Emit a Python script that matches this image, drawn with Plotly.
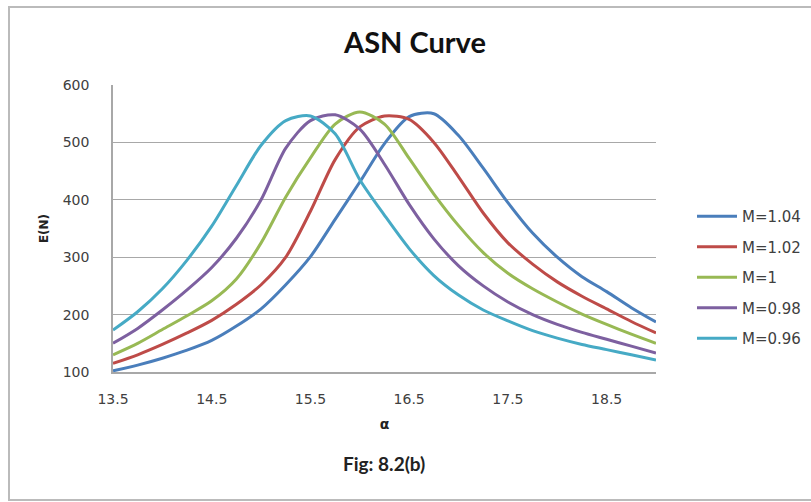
import plotly.graph_objects as go

alpha = [13.5, 13.75, 14.0, 14.25, 14.5, 14.75, 15.0, 15.25, 15.5, 15.75, 16.0, 16.25,
         16.5, 16.75, 17.0, 17.25, 17.5, 17.75, 18.0, 18.25, 18.5, 18.75, 19.0]

m_104 = [102, 112, 124, 138, 155, 180, 210, 252, 301, 366, 431, 498,
         545, 550, 512, 455, 395, 342, 300, 266, 240, 212, 187]
m_102 = [115, 130, 148, 168, 190, 218, 252, 300, 380, 470, 527, 546,
         540, 500, 440, 377, 325, 288, 257, 232, 210, 188, 168]
m_100 = [130, 150, 174, 198, 224, 262, 325, 405, 473, 532, 553, 532,
         472, 410, 355, 308, 272, 245, 222, 201, 183, 166, 150]
m_098 = [150, 176, 208, 243, 282, 333, 400, 490, 538, 548, 523, 462,
         392, 332, 285, 250, 222, 200, 183, 169, 157, 145, 133]
m_096 = [173, 205, 245, 295, 354, 425, 495, 538, 546, 515, 435, 373,
         315, 268, 234, 208, 189, 172, 159, 148, 139, 130, 121]

series_names = ["M=1.04", "M=1.02", "M=1", "M=0.98", "M=0.96"]
series_vals = [m_104, m_102, m_100, m_098, m_096]
colors = ["#4A7EBB", "#BE4B48", "#98B954", "#7D60A0", "#46AAC5"]

x_ticks = [13.5, 14.5, 15.5, 16.5, 17.5, 18.5]
y_ticks = [100, 200, 300, 400, 500, 600]

fig = go.Figure()
for i, (name, vals, col) in enumerate(zip(series_names, series_vals, colors)):
    fig.add_trace(go.Scatter(
        x=alpha, y=vals, mode="lines", name=name,
        line=dict(color=col, width=3, shape="spline", smoothing=0.8),
        legendgroup=str(i),
    ))

L, R, T, B = 113, 155, 85, 130
W, H = 811, 502
pw, ph = W - L - R, H - T - B

def px2paper_x(px):
    return (px - L) / pw

def py2paper_y(py):
    return (H - B - py) / ph

tick_font = dict(family="DejaVu Sans, sans-serif", size=14, color="#404040")

fig.update_layout(
    width=W, height=H,
    margin=dict(l=L, r=R, t=T, b=B, autoexpand=False),
    paper_bgcolor="white", plot_bgcolor="white",
    showlegend=True,
    legend=dict(
        x=px2paper_x(692), y=py2paper_y(200), xanchor="left", yanchor="top",
        font=dict(family="DejaVu Sans, sans-serif", size=15, color="#404040"),
        tracegroupgap=8, traceorder="grouped", itemwidth=40,
        bgcolor="rgba(0,0,0,0)",
    ),
    title=dict(text="<b>ASN Curve</b>", xref="container", x=415 / W, xanchor="center",
               y=1 - 43 / H, yanchor="middle",
               font=dict(family="Lato, sans-serif", size=29, color="#111111")),
    xaxis=dict(
        range=[13.5, 19.0], tickvals=x_ticks, ticktext=[str(v) for v in x_ticks],
        showgrid=False, zeroline=False, showline=True, linecolor="#A8A8A8", linewidth=1.5,
        ticks="", ticklabelstandoff=13, tickfont=tick_font,
        title=dict(text="<b>α</b>", standoff=14,
                   font=dict(family="DejaVu Sans, sans-serif", size=14, color="#222222")),
    ),
    yaxis=dict(
        range=[100, 600], tickvals=y_ticks,
        showgrid=True, gridcolor="#A8A8A8", gridwidth=1.2,
        zeroline=False, showline=True, linecolor="#A8A8A8", linewidth=1.5,
        ticks="", ticklabelstandoff=19, tickfont=tick_font,
        title=dict(text="<b>E(N)</b>", standoff=12,
                   font=dict(family="DejaVu Sans, sans-serif", size=12, color="#222222")),
    ),
    annotations=[
        dict(text="<b>Fig: 8.2(b)</b>", xref="paper", yref="paper",
             x=px2paper_x(384), y=py2paper_y(463), xanchor="center", yanchor="middle",
             showarrow=False,
             font=dict(family="Lato, sans-serif", size=19, color="#222222")),
    ],
    shapes=[
        dict(type="rect", xref="paper", yref="paper",
             x0=px2paper_x(9), x1=px2paper_x(830), y0=py2paper_y(500), y1=py2paper_y(7),
             line=dict(color="#BBBBBB", width=2), fillcolor="rgba(0,0,0,0)", layer="below"),
    ],
)

fig.write_html("out.html")
